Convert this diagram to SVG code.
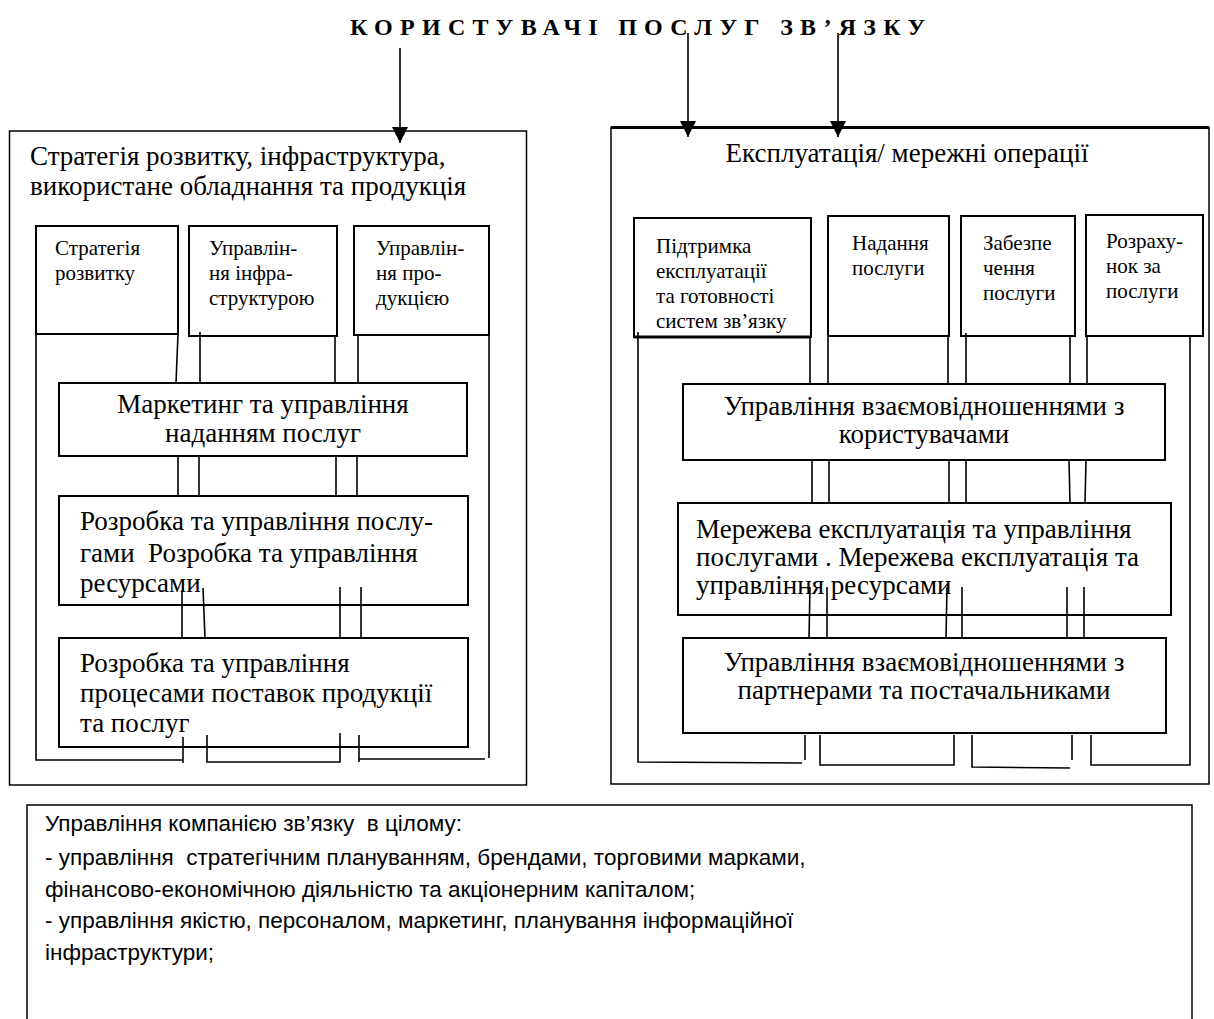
<svg xmlns="http://www.w3.org/2000/svg" width="1214" height="1019" viewBox="0 0 1214 1019">
  <defs>
    <style>
      .frame { fill: #fff; stroke: #000; stroke-width: 1.5; }
      .box { fill: #fff; stroke: #000; stroke-width: 2; }
      .ln { fill: none; stroke: #000; stroke-width: 1.6; }
      .serif { font-family: "Liberation Serif", "Times New Roman", serif; fill: #000; white-space: pre; }
      .big { font-size: 27px; }
      .small { font-size: 21px; }
      .mid { text-anchor: middle; }
      .sans { font-family: "Liberation Sans", Arial, sans-serif; font-size: 22.5px; fill: #000; white-space: pre; }
    </style>
    <marker id="arrow" markerUnits="userSpaceOnUse" markerWidth="18" markerHeight="18" refX="16" refY="8" orient="auto">
      <path d="M0,0 L16,8 L0,16 Z" fill="#000"/>
    </marker>
  </defs>

  <rect width="1214" height="1019" fill="#fff"/>

  <!-- title -->
  <text id="title" class="serif" x="350" y="35" font-size="24" font-weight="bold" textLength="575" lengthAdjust="spacing">КОРИСТУВАЧІ ПОСЛУГ ЗВ’ЯЗКУ</text>

  <!-- left block: strategy and infrastructure -->
  <g id="left-frame">
    <rect class="frame" x="9.5" y="131" width="517" height="654"/>
    <text class="serif big" x="30" y="165">Стратегія розвитку, інфраструктура,</text>
    <text class="serif big" x="30" y="195">використане обладнання та продукція</text>
  </g>

  <g id="left-strategy">
    <rect class="box" x="36" y="226" width="142" height="108"/>
    <text class="serif small" x="55" y="255">Стратегія</text>
    <text class="serif small" x="55" y="280">розвитку</text>
  </g>
  <g id="left-infra">
    <rect class="box" x="189" y="226" width="148" height="110"/>
    <text class="serif small" x="209" y="255">Управлін-</text>
    <text class="serif small" x="209" y="280">ня інфра-</text>
    <text class="serif small" x="209" y="305">структурою</text>
  </g>
  <g id="left-product">
    <rect class="box" x="354" y="226" width="135" height="109"/>
    <text class="serif small" x="376" y="255">Управлін-</text>
    <text class="serif small" x="376" y="280">ня про-</text>
    <text class="serif small" x="376" y="305">дукцією</text>
  </g>

  <g id="left-marketing">
    <rect class="box" x="59" y="383" width="408" height="73"/>
    <text class="serif big mid" x="263" y="413">Маркетинг та управління</text>
    <text class="serif big mid" x="263" y="442">наданням послуг</text>
  </g>

  <g id="left-development">
    <rect class="box" x="59" y="496" width="409" height="109"/>
    <text class="serif big" x="80" y="530">Розробка та управління послу-</text>
    <text class="serif big" x="80" y="562">гами  Розробка та управління</text>
    <text class="serif big" x="80" y="592">ресурсами</text>
  </g>

  <g id="left-supply">
    <rect class="box" x="59" y="638" width="409" height="109"/>
    <text class="serif big" x="80" y="672">Розробка та управління</text>
    <text class="serif big" x="80" y="702">процесами поставок продукції</text>
    <text class="serif big" x="80" y="732">та послуг</text>
  </g>

  <!-- right block: operations -->
  <g id="right-frame">
    <rect class="frame" x="611" y="127.5" width="598" height="656.5"/>
    <line x1="611" y1="127.5" x2="1209" y2="127.5" stroke="#000" stroke-width="3"/>
    <text class="serif big mid" x="907" y="162">Експлуатація/ мережні операції</text>
  </g>

  <g id="right-support">
    <rect class="box" x="634" y="218" width="177" height="119"/>
    <line x1="634" y1="337" x2="811" y2="337" stroke="#000" stroke-width="3"/>
    <text class="serif small" x="656" y="253">Підтримка</text>
    <text class="serif small" x="656" y="278">експлуатації</text>
    <text class="serif small" x="656" y="303">та готовності</text>
    <text class="serif small" x="656" y="328">систем зв’язку</text>
  </g>
  <g id="right-provision">
    <rect class="box" x="828" y="216" width="121" height="120"/>
    <text class="serif small" x="852" y="250">Надання</text>
    <text class="serif small" x="852" y="275">послуги</text>
  </g>
  <g id="right-assurance">
    <rect class="box" x="961" y="216" width="114" height="120"/>
    <text class="serif small" x="983" y="250">Забезпе</text>
    <text class="serif small" x="983" y="275">чення</text>
    <text class="serif small" x="983" y="300">послуги</text>
  </g>
  <g id="right-billing">
    <rect class="box" x="1086" y="215" width="117" height="121"/>
    <text class="serif small" x="1106" y="248">Розраху-</text>
    <text class="serif small" x="1106" y="273">нок за</text>
    <text class="serif small" x="1106" y="298">послуги</text>
  </g>

  <g id="right-customers">
    <rect class="box" x="683" y="384" width="482" height="76"/>
    <text class="serif big mid" x="924" y="415">Управління взаємовідношеннями з</text>
    <text class="serif big mid" x="924" y="443">користувачами</text>
  </g>

  <g id="right-network">
    <rect class="box" x="678" y="503" width="493" height="112"/>
    <text class="serif big" x="696" y="538">Мережева експлуатація та управління</text>
    <text class="serif big" x="696" y="566">послугами . Мережева експлуатація та</text>
    <text class="serif big" x="696" y="594">управління ресурсами</text>
  </g>

  <g id="right-partners">
    <rect class="box" x="683" y="638" width="483" height="95"/>
    <text class="serif big mid" x="924" y="671">Управління взаємовідношеннями з</text>
    <text class="serif big mid" x="924" y="699">партнерами та постачальниками</text>
  </g>

  <!-- bottom block: company management -->
  <g id="company">
    <path d="M27,1019 V805 H1192 V1019" fill="#fff" stroke="#000" stroke-width="1.5"/>
    <text class="sans" x="45" y="831">Управління компанією зв’язку  в цілому:</text>
    <text class="sans" x="45" y="865">- управління  стратегічним плануванням, брендами, торговими марками,</text>
    <text class="sans" x="45" y="897">фінансово-економічною діяльністю та акціонерним капіталом;</text>
    <text class="sans" x="45" y="928">- управління якістю, персоналом, маркетинг, планування інформаційної</text>
    <text class="sans" x="45" y="960">інфраструктури;</text>
  </g>

  <!-- connectors -->
  <g id="connectors">
    <line class="ln" x1="400" y1="48" x2="400" y2="143" stroke-width="2" marker-end="url(#arrow)"/>
    <line class="ln" x1="688" y1="33" x2="688" y2="137" stroke-width="2" marker-end="url(#arrow)"/>
    <line class="ln" x1="838" y1="33" x2="838" y2="137" stroke-width="2" marker-end="url(#arrow)"/>

    <!-- left: frame lines and links between blocks -->
    <path class="ln" d="M36,334 V760 H182"/>
    <path class="ln" d="M489,335 V758"/>
    <path class="ln" d="M178,334 L176,383 M200,332 V383 M335,336 V383 M358,335 V384"/>
    <path class="ln" d="M178,456 V497 M199,456 V497 M336,456 V497 M357,456 V497"/>
    <path class="ln" d="M182,590 V638 M203,588 L205,638 M340,587 V638 M361,587 V638"/>
    <path class="ln" d="M183,737 V763"/>
    <path class="ln" d="M207,735 V762 H340 V733"/>
    <path class="ln" d="M359,735 V762 M359,759 H485"/>

    <!-- right: frame lines and links between blocks -->
    <path class="ln" d="M638,332 V762 L802,763"/>
    <path class="ln" d="M1190,336 V765 H1091 V735"/>
    <path class="ln" d="M810,337 V384 M828,336 V384 M948,336 V384 M966,333 V384 M1070,336 V384 M1087,336 V384"/>
    <path class="ln" d="M812,460 V503 M829,460 V503 M949,460 V503 M966,460 V503 M1069,460 L1070,503 M1086,460 L1085,503"/>
    <path class="ln" d="M810,587 L809,638 M827,587 V638 M947,587 L946,638 M962,587 V638 M1067,587 V638 M1084,587 V638"/>
    <path class="ln" d="M805,735 V760"/>
    <path class="ln" d="M820,735 V765 H954 V735"/>
    <path class="ln" d="M972,735 V767 L1070,768 M1072,735 V760"/>
  </g>
</svg>
